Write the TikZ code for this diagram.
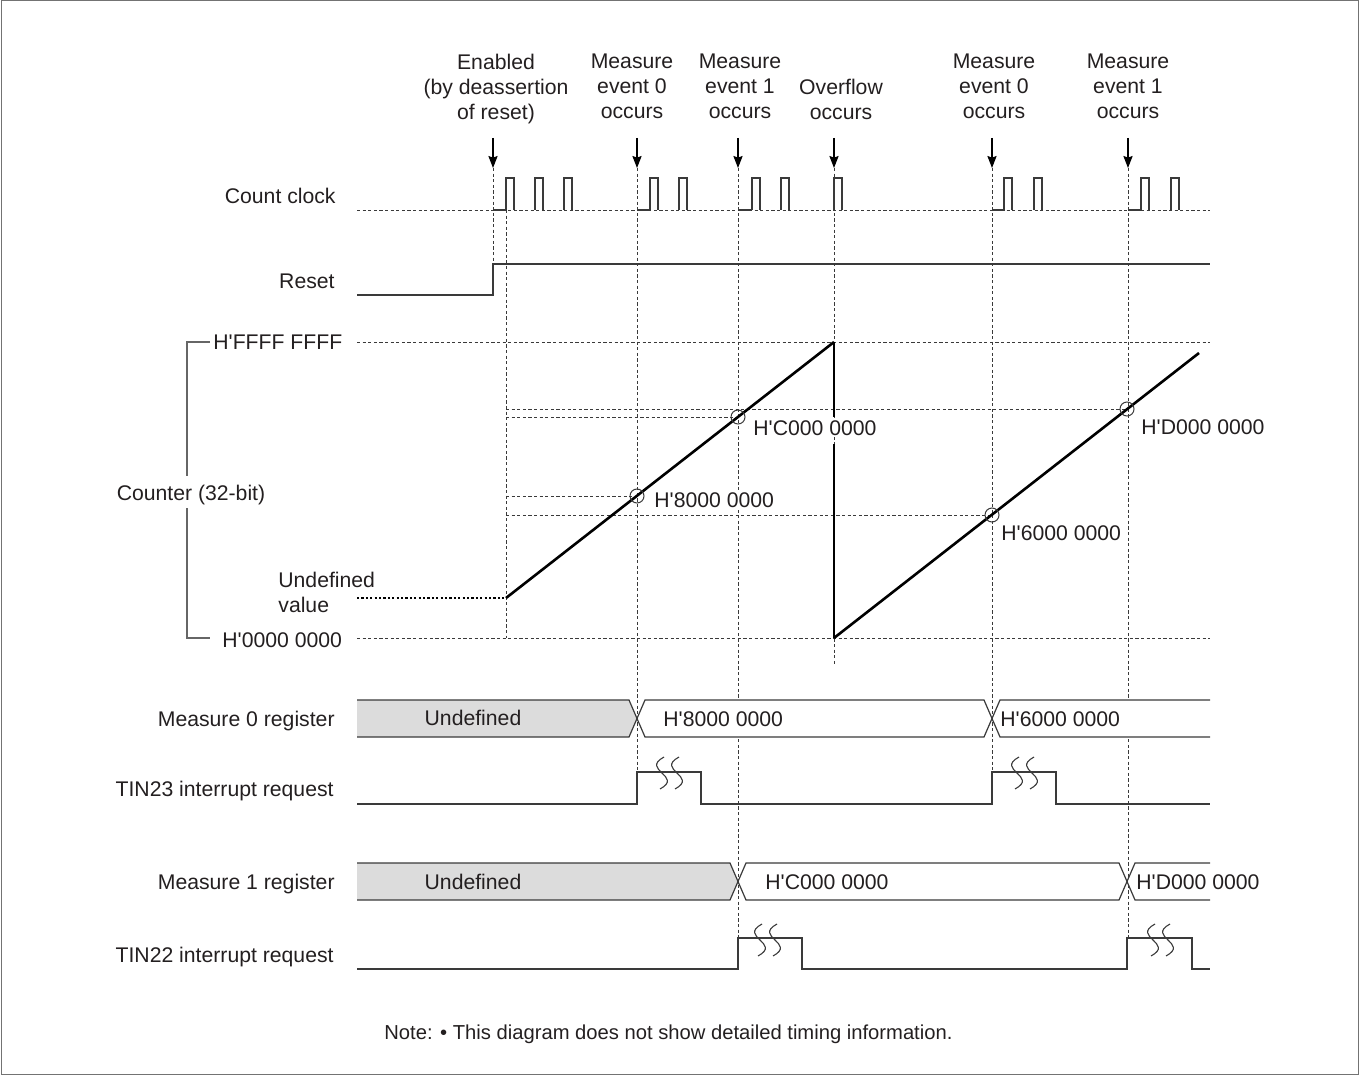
\documentclass[tikz,border=0pt]{standalone}
\usepackage{fontspec}
\setmainfont{Liberation Sans}[Ligatures=TeXOff]
\usetikzlibrary{arrows.meta}
\definecolor{txt}{HTML}{231F20}
\definecolor{linec}{HTML}{3A3A3A}
\definecolor{undef}{HTML}{DCDCDC}
\newcommand\mywig[2]{\draw[wiggle] (#1+2,#2-16) .. controls (#1-22,#2-3) and (#1+22,#2+3) .. (#1-2,#2+16);}
\begin{document}
\begin{tikzpicture}[x=0.5pt,y=-0.5pt,
  every node/.style={inner sep=0pt, text=txt, font=\fontsize{10.6pt}{12.5pt}\selectfont},
  sig/.style={draw=linec, line width=0.6pt},
  guide/.style={draw=linec, line width=0.4pt, dash pattern=on 1.6pt off 1.2pt},
  undefdot/.style={draw=black, line width=1.1pt, dash pattern=on 1.1pt off 1.1pt},
  ramp/.style={draw=black, line width=1.3pt, line join=miter},
  evarrow/.style={draw=black, line width=0.6pt, -{Stealth[length=6pt,width=4.6pt,inset=0.8pt]}},
  wiggle/.style={draw=linec, line width=0.55pt},
  brk/.style={draw=black!60, line width=0.6pt},
  toplab/.style={anchor=north, align=center},
  lab/.style={anchor=base east},
  val/.style={anchor=base west},
  valw/.style={anchor=base west, fill=white, inner sep=1pt},
]
\useasboundingbox (0,0) rectangle (1359,1075);
\draw[black!55, line width=0.5pt] (1,1) rectangle (1358,1074);

% ---------- event labels and arrows ----------
\node[toplab] (tEn) at (496,54) {Enabled\\(by deassertion\\of reset)};
\node[toplab] (tM0a) at (632,54) {Measure\\event 0\\occurs};
\node[toplab] (tM1a) at (740,54) {Measure\\event 1\\occurs};
\node[toplab] (tOv) at (841,79) {Overflow\\occurs};
\node[toplab] (tM0b) at (994,54) {Measure\\event 0\\occurs};
\node[toplab] (tM1b) at (1128,54) {Measure\\event 1\\occurs};

\foreach \x/\n in {493/a,637/b,738/c,834/d,992/e,1128/f}{
  \coordinate (s\n) at (\x,138);
  \coordinate (t\n) at (\x,168);
  \draw[evarrow] (s\n) -- (t\n);
}

% ---------- vertical guide lines ----------
\draw[guide] (ta) -- (493,264);
\draw[guide] (506,210) -- (506,638);
\draw[guide] (tb) -- (637,772);
\draw[guide] (tc) -- (738,938);
\draw[guide] (td) -- (834,665);
\draw[guide] (te) -- (992,772);
\draw[guide] (tf) -- (1128,938);

% ---------- signal labels ----------
\node[lab] (lClk) at (336,203.5) {Count clock};
\node[lab] (lRst) at (335,288.5) {Reset};
\node[val] (lFF) at (213,349.5) {H'FFFF FFFF};
\node[val] (l00) at (222,647) {H'0000 0000};
\node[anchor=base] (lCnt) at (191,500) {Counter (32-bit)};
\node[anchor=north west, align=left] (lUnd) at (278,572) {Undefined\\value};
\node[lab] (lM0) at (335,726.5) {Measure 0 register};
\node[lab] (lT23) at (334,796.5) {TIN23 interrupt request};
\node[lab] (lM1) at (335,889.5) {Measure 1 register};
\node[lab] (lT22) at (334,962.5) {TIN22 interrupt request};

% ---------- count clock ----------
\draw[guide] (357,210) -- (1210,210);
\foreach \a in {493,637,738,992,1128}{
  \draw[sig] (\a,210) -- (\a+13,210);
}
\foreach \a in {506,535,564,650,679,752,781,834,1004,1034,1141,1171}{
  \draw[sig] (\a,210) -- (\a,178) -- (\a+8,178) -- (\a+8,210);
}

% ---------- reset ----------
\draw[sig] (357,295) -- (493,295) -- (493,264) -- (1210,264);

% ---------- counter ----------
\draw[brk] (210,342) -| (187,476);
\draw[brk] (187,508) |- (210,638);
\draw[guide] (357,342) -- (1210,342);
\draw[guide] (357,638) -- (1210,638);
\draw[guide] (506,409) -- (1127,409);
\draw[guide] (506,417) -- (738,417);
\draw[guide] (506,496) -- (637,496);
\draw[guide] (506,515) -- (992,515);
\draw[undefdot] (357,598) -- (506,598);

\node[valw] (vC) at (751,435) {H'C000 0000};
\node[valw] (v8) at (652,507.5) {H'8000 0000};
\node[valw] (v6) at (999,540.5) {H'6000 0000};
\node[valw] (vD) at (1139,434) {H'D000 0000};

\coordinate (r0) at (506,598);
\coordinate (r1) at (834,342);
\coordinate (r2) at (834,638);
\coordinate (r3) at (1199,353);
\draw[ramp] (r0) -- (r1);
\draw[ramp] (r1) -- (834,417) (834,444) -- (r2);
\draw[ramp] (r2) -- (r3);

\foreach \p in {(637,496),(738,417),(992,515),(1127,409)}{
  \draw[linec, line width=0.5pt] \p circle[radius=7];
}

% ---------- measure 0 register ----------
\fill[undef] (357,700) -- (629,700) -- (637,718.5) -- (629,737) -- (357,737) -- cycle;
\draw[sig] (357,700) -- (629,700) -- (637,718.5) -- (629,737) -- (357,737);
\draw[sig, fill=white] (637,718.5) -- (645,700) -- (984,700) -- (992,718.5) -- (984,737) -- (645,737) -- cycle;
\fill[white] (1000,700) -- (992,718.5) -- (1000,737) -- (1210,737) -- (1210,700) -- cycle;
\draw[sig] (1210,700) -- (1000,700) -- (992,718.5) -- (1000,737) -- (1210,737);
\node[anchor=base] (u0) at (473,725.5) {Undefined};
\node[val] (m08) at (663,726.5) {H'8000 0000};
\node[val] (m06) at (1000,726.5) {H'6000 0000};

% ---------- TIN23 ----------
\draw[sig] (357,804) -- (637,804) -- (637,772) -- (701,772) -- (701,804) -- (992,804)
  -- (992,772) -- (1056,772) -- (1056,804) -- (1210,804);
\mywig{662}{773}
\mywig{677}{773}
\mywig{1017}{773}
\mywig{1032}{773}

% ---------- measure 1 register ----------
\fill[undef] (357,863) -- (730,863) -- (738,881.5) -- (730,900) -- (357,900) -- cycle;
\draw[sig] (357,863) -- (730,863) -- (738,881.5) -- (730,900) -- (357,900);
\draw[sig, fill=white] (738,881.5) -- (746,863) -- (1119,863) -- (1127,881.5) -- (1119,900) -- (746,900) -- cycle;
\fill[white] (1135,863) -- (1127,881.5) -- (1135,900) -- (1210,900) -- (1210,863) -- cycle;
\draw[sig] (1210,863) -- (1135,863) -- (1127,881.5) -- (1135,900) -- (1210,900);
\node[anchor=base] (u1) at (473,889.5) {Undefined};
\node[val] (m1C) at (765,889.5) {H'C000 0000};
\node[val] (m1D) at (1136,889.5) {H'D000 0000};

% ---------- TIN22 ----------
\draw[sig] (357,969) -- (738,969) -- (738,938) -- (802,938) -- (802,969) -- (1127,969)
  -- (1127,938) -- (1192,938) -- (1192,969) -- (1210,969);
\mywig{760}{940}
\mywig{775}{940}
\mywig{1153}{940}
\mywig{1168}{940}

% ---------- note ----------
\node[val, font=\fontsize{10.1pt}{12pt}\selectfont] (note) at (384,1039.5) {Note: \textbullet{} This diagram does not show detailed timing information.};
\end{tikzpicture}
\end{document}
